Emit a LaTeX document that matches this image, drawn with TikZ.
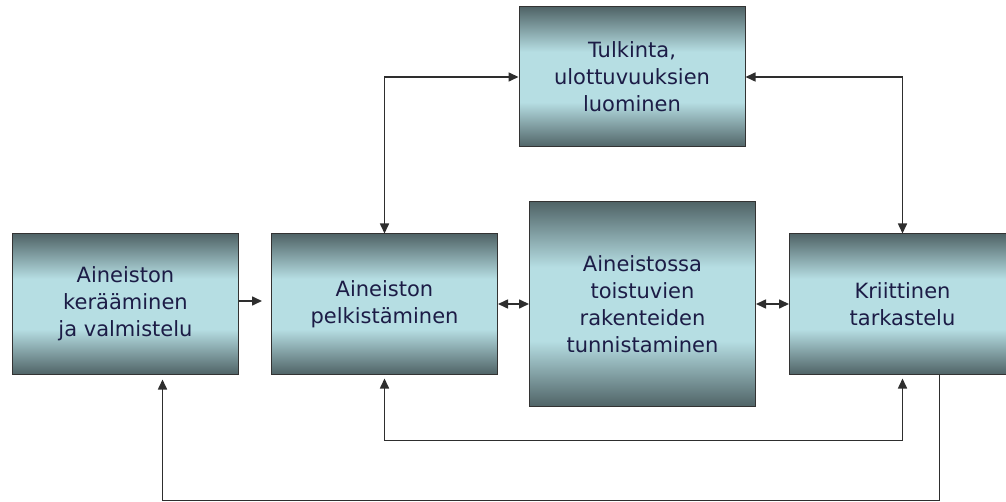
\documentclass[tikz,border=0pt]{standalone}
\usepackage{fontspec}
\setmainfont{DejaVu Sans}
\usetikzlibrary{arrows.meta,positioning,calc}
\definecolor{boxdark}{RGB}{80,100,103}
\definecolor{boxlight}{RGB}{182,222,227}
\definecolor{boxtext}{RGB}{28,28,70}
\pgfdeclareverticalshading{boxshade}{100bp}{color(0bp)=(boxdark); color(25bp)=(boxdark); color(41bp)=(boxlight); color(59bp)=(boxlight); color(75bp)=(boxdark); color(100bp)=(boxdark)}

\begin{document}
\begin{tikzpicture}[x=1pt, y=1pt, node distance=32pt and 32pt, every node/.style={font=\fontsize{21pt}{27pt}\selectfont}]
\tikzset{box/.style={draw=black!80, line width=1pt, shading=boxshade, text=boxtext, align=center, minimum width=226pt, minimum height=140pt, inner sep=0pt}}
\tikzset{link/.style={line width=1.6pt, black!82}}
\tikzset{tip/.style={-{Triangle[length=10pt,width=9pt]}}}
\tikzset{dbl/.style={{Triangle[length=10pt,width=9pt]}-{Triangle[length=10pt,width=9pt]}}}
\useasboundingbox (0,0) rectangle (1006,-502);
\node[box] (ker) at (125.5,-304) {Aineiston\\kerääminen\\ja valmistelu};
\node[box, right=32pt of ker] (pel) {Aineiston\\pelkistäminen};
\node[box, right=31pt of pel, minimum height=204pt] (tun) {Aineistossa\\toistuvien\\rakenteiden\\tunnistaminen};
\node[box, right=33pt of tun] (kri) {Kriittinen\\tarkastelu};
\node[box, above=54pt of tun, xshift=-10.5pt] (tul) {Tulkinta,\\ulottuvuuksien\\luominen};
\draw[link, tip, shorten >=9pt] ([yshift=3pt]ker.east) -- ([yshift=3pt]pel.west);
\draw[link, dbl] (pel.east) -- (pel.east -| tun.west);
\draw[link, dbl] (tun.east |- kri.west) -- (kri.west);
\draw[link, dbl] (pel.north) |- (tul.west);
\draw[link, dbl] (tul.east) -| (kri.north);
\draw[link, dbl, shorten <=4pt, shorten >=4pt] (kri.south) -- ++(0,-66) -| (pel.south);
\draw[link, tip, shorten >=5pt] ([xshift=37pt]kri.south) -- ++(0,-126) -| ([xshift=37pt]ker.south);
\end{tikzpicture}
\end{document}
